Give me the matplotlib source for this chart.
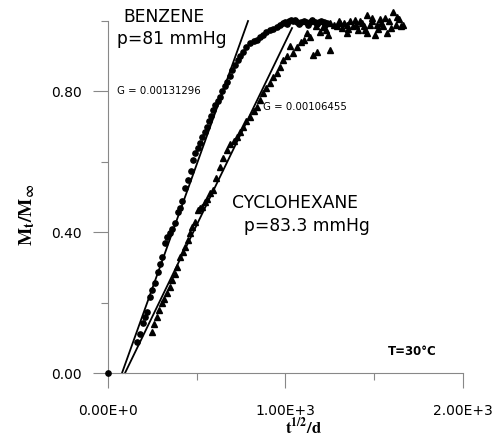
import matplotlib
matplotlib.use('Agg')
import matplotlib.pyplot as plt
from matplotlib.ticker import FixedLocator

# benzene, p = 81 mmHg (circles)
benzene_t = [0, 163, 180, 197, 210, 220, 237, 250, 265, 282, 295, 304, 321, 335, 349,
             362, 377, 394, 405, 417, 434, 451, 465, 479, 492, 505, 518, 532, 545, 557,
             570, 582, 592, 605, 618, 631, 645, 657, 670, 685, 698, 715, 732, 746, 761,
             780, 800, 820, 839, 856, 873, 893, 913, 932, 952, 970, 985, 1000, 1020,
             1042, 1065, 1090, 1115, 1140, 1165, 1190, 1215, 1234,
             1010, 1030, 1055, 1078, 1102, 1128, 1152, 1178, 1202, 1225]
benzene_m = [0.0, 0.088, 0.11, 0.142, 0.16, 0.173, 0.216, 0.235, 0.256, 0.287, 0.31, 0.33,
             0.369, 0.385, 0.398, 0.41, 0.426, 0.457, 0.47, 0.49, 0.525, 0.548, 0.575,
             0.605, 0.625, 0.64, 0.653, 0.67, 0.685, 0.70, 0.715, 0.73, 0.747, 0.76,
             0.772, 0.784, 0.80, 0.815, 0.827, 0.845, 0.86, 0.875, 0.889, 0.90, 0.912,
             0.925, 0.937, 0.942, 0.946, 0.955, 0.96, 0.968, 0.974, 0.978, 0.983, 0.99,
             0.994, 0.997, 0.999, 1.0, 0.998, 0.996, 0.997, 0.998, 0.996, 0.997, 0.996,
             0.995,
             0.992, 1.003, 1.002, 0.991, 1.001, 0.990, 1.002, 0.991, 1.001, 0.990]

# cyclohexane, p = 83.3 mmHg (triangles)
cyclo_t = [246, 260, 274, 290, 304, 318, 332, 347, 361, 375, 389, 406, 420, 434, 448,
           462, 476, 490, 507, 520, 530, 545, 560, 575, 592, 610, 631, 650, 670, 690,
           710, 727, 745, 761, 780, 800, 820, 839, 856, 873, 893, 913, 932, 952, 970,
           986, 1010, 1042, 1065, 1090, 1121, 1138, 1155, 1177, 1195, 1211, 1230, 1251,
           1251, 1275, 1290, 1307, 1320, 1346, 1346, 1365, 1380, 1400, 1420, 1440, 1459,
           1459, 1475, 1490, 1504, 1515, 1530, 1550, 1572, 1585, 1606, 1620, 1640, 1662,
           1300, 1330, 1355, 1390, 1410, 1430, 1450, 1485, 1520, 1540, 1560, 1595, 1630,
           1650, 1025, 1105, 1170, 1240]
cyclo_m = [0.117, 0.14, 0.159, 0.18, 0.199, 0.21, 0.227, 0.245, 0.264, 0.28, 0.301, 0.33,
           0.345, 0.358, 0.378, 0.398, 0.415, 0.429, 0.463, 0.47, 0.472, 0.485, 0.495,
           0.51, 0.52, 0.555, 0.585, 0.61, 0.633, 0.65, 0.66, 0.67, 0.685, 0.70, 0.715,
           0.727, 0.745, 0.756, 0.776, 0.795, 0.81, 0.824, 0.84, 0.852, 0.87, 0.889,
           0.90, 0.909, 0.926, 0.94, 0.966, 0.955, 0.903, 0.912, 0.97, 0.983, 0.975,
           0.994, 0.918, 0.99, 0.985, 0.995, 0.98, 0.966, 0.99, 1.0, 0.985, 0.99, 1.0,
           0.985, 1.017, 0.966, 0.99, 1.0, 0.96, 0.99, 1.005, 0.985, 0.966, 1.0, 1.026,
           0.99, 1.005, 0.989,
           1.0, 0.995, 0.978, 1.003, 0.975, 0.995, 0.975, 1.008, 0.978, 0.995, 1.01,
           0.98, 1.012, 0.985, 0.93, 0.945, 0.985, 0.96]

# linear fits (start/end)
benzene_fit_t = [79, 789]
benzene_fit_m = [0.0, 1.0]
cyclo_fit_t = [96, 1037]
cyclo_fit_m = [0.0, 0.98]

plt.rcParams['font.family'] = ['DejaVu Sans']
plt.rcParams['mathtext.fontset'] = 'stix'

fig = plt.figure(figsize=(4.94, 4.38), dpi=100)
ax = fig.add_axes([0.2186, 0.1484, 0.7186, 0.8036])

ax.plot(benzene_fit_t, benzene_fit_m, color='black', lw=1.3, clip_on=False)
ax.plot(cyclo_fit_t, cyclo_fit_m, color='black', lw=1.3, clip_on=False)
ax.plot(benzene_t, benzene_m, 'o', color='black', markersize=3.8, clip_on=False, zorder=5)
ax.plot(cyclo_t, cyclo_m, '^', color='black', markersize=4.4, clip_on=False, zorder=5)

ax.set_xlim(0, 2000)
ax.set_ylim(0, 1.0)

for s in ['top', 'right']:
    ax.spines[s].set_visible(False)
for s in ['left', 'bottom']:
    ax.spines[s].set_color('#888888')
    ax.spines[s].set_linewidth(0.8)

ax.set_xticks([0, 1000, 2000])
ax.set_xticklabels(['0.00E+0', '1.00E+3', '2.00E+3'])
ax.xaxis.set_minor_locator(FixedLocator([500, 1500]))
ax.set_yticks([0.0, 0.4, 0.8])
ax.set_yticklabels(['0.00', '0.40', '0.80'])
ax.yaxis.set_minor_locator(FixedLocator([0.2, 0.6, 1.0]))
ax.tick_params(which='major', direction='out', length=11, width=0.8, color='#888888',
               labelsize=10, pad=8)
ax.tick_params(axis='x', which='major', pad=11)
ax.tick_params(which='minor', direction='out', length=5, width=0.8, color='#888888')

ax.set_ylabel(r'$\mathbf{M_t/M_\infty}$', fontsize=14)
ax.yaxis.set_label_coords(-0.20, 0.45)
ax.set_xlabel(r'$\mathbf{t^{1/2}/d}$', fontsize=12)
ax.xaxis.set_label_coords(0.55, -0.125)

big = 12.3
ax.text(85, 1.012, 'BENZENE', fontsize=big, ha='left', va='center')
ax.text(51, 0.95, 'p=81 mmHg', fontsize=big, ha='left', va='center')
ax.text(51, 0.80, 'G = 0.00131296', fontsize=7.3, ha='left', va='center')
ax.text(873, 0.756, 'G = 0.00106455', fontsize=7.3, ha='left', va='center')
ax.text(699, 0.483, 'CYCLOHEXANE', fontsize=big, ha='left', va='center')
ax.text(766, 0.418, 'p=83.3 mmHg', fontsize=big, ha='left', va='center')
ax.text(1577, 0.06, 'T=30°C', fontsize=8.5, fontweight='bold', ha='left', va='center')

fig.savefig('out.png', dpi=100)
